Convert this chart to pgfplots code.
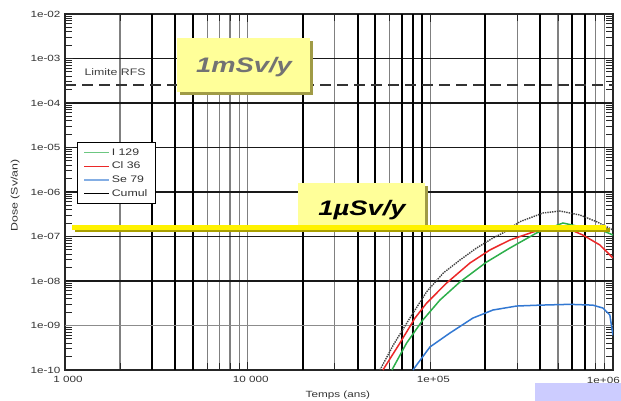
\documentclass[border=0pt]{standalone}
\usepackage{fontspec}
\setmainfont{Liberation Sans}
\newfontfamily\sfw[FakeStretch=1.3]{Liberation Sans}
\usepackage{pgfplots}
\pgfplotsset{compat=1.18}
\definecolor{cgreen}{RGB}{45,175,75}
\definecolor{cred}{RGB}{235,40,40}
\definecolor{cblue}{RGB}{50,120,210}
\definecolor{lyellow}{RGB}{255,255,153}
\definecolor{shadowol}{RGB}{160,155,70}
\definecolor{lineol}{RGB}{170,160,0}
\definecolor{lav}{RGB}{204,204,255}

\pgfplotstableread{
x y
53000 1e-10
62700 3.65e-10
77300 1.47e-9
95500 5.75e-9
117700 1.51e-8
145200 2.96e-8
179200 5.52e-8
220300 9.25e-8
249600 1.2e-7
309100 2.15e-7
413200 3.37e-7
512000 3.74e-7
659000 3.04e-7
813000 2.15e-7
1000000 1.40e-7
}\cumul

\pgfplotstableread{
x y
55000 1e-10
68200 4.05e-10
82400 1.47e-9
95500 3.2e-9
122800 9.0e-9
164800 2.54e-8
211900 4.98e-8
272800 8.34e-8
364500 1.26e-7
433300 1.55e-7
557000 1.55e-7
684000 1.08e-7
848000 6.44e-8
1000000 3.29e-8
}\clthirtysix

\pgfplotstableread{
x y
61600 1e-10
74200 4.05e-10
91000 1.33e-9
112900 3.74e-9
145200 9.5e-9
203300 2.67e-8
272800 5.52e-8
381700 1.2e-7
532000 2.01e-7
659000 1.66e-7
813000 1.55e-7
1000000 1.08e-7
}\iodine

\pgfplotstableread{
x y
80300 1e-10
99500 3.29e-10
128000 6.78e-10
171000 1.47e-9
220300 2.23e-9
296800 2.74e-9
398000 2.87e-9
581000 2.99e-9
776000 2.87e-9
880000 2.47e-9
961000 1.72e-9
1000000 6e-10
}\selenium

\begin{document}
\begin{tikzpicture}[x=1pt,y=1pt]
\begin{axis}[
  at={(65pt,31pt)}, anchor=south west,
  scale only axis, width=548pt, height=356pt,
  xmode=log, ymode=log,
  xmin=1000, xmax=1000000, ymin=1e-10, ymax=1e-2,
  xtick={1000,10000,100000},
  xticklabels={{1 000},{10 000},{1e+05}},
  minor xtick={2000,6000,7000,8000,9000,30000,60000,300000,500000,800000,900000},
  ytick={1e-10,1e-9,1e-8,1e-7,1e-6,1e-5,1e-4,1e-3,1e-2},
  yticklabels={1e-10,1e-09,1e-08,1e-07,1e-06,1e-05,1e-04,1e-03,1e-02},
  minor ytick={2e-10,3e-10,4e-10,5e-10,6e-10,7e-10,8e-10,9e-10,2e-9,3e-9,4e-9,5e-9,6e-9,7e-9,8e-9,9e-9,2e-8,3e-8,4e-8,5e-8,6e-8,7e-8,8e-8,9e-8,2e-7,3e-7,4e-7,5e-7,6e-7,7e-7,8e-7,9e-7,2e-6,3e-6,4e-6,5e-6,6e-6,7e-6,8e-6,9e-6,2e-5,3e-5,4e-5,5e-5,6e-5,7e-5,8e-5,9e-5,2e-4,3e-4,4e-4,5e-4,6e-4,7e-4,8e-4,9e-4,2e-3,3e-3,4e-3,5e-3,6e-3,7e-3,8e-3,9e-3},
  xmajorgrids=true, xminorgrids=true, ymajorgrids=true,
  major x grid style={black!50, line width=1.2pt},
  minor x grid style={black!50, line width=1.2pt},
  major y grid style={black!90, line width=1.2pt},
  tick align=inside,
  major tick length=8pt, minor tick length=7pt,
  tick style={black!85, line width=1pt},
  minor tick style={black!85, line width=0.9pt},
  axis line style={black!85, line width=1.4pt},
  ticklabel style={font=\sfw\fontsize{9}{10}\selectfont, text=black!80},
  /pgf/number format/assume math mode=true,
  xticklabel style={yshift=-3pt, xshift=3pt},
  yticklabel style={xshift=-1pt},
  xlabel={Temps (ans)},
  ylabel={Dose (Sv/an)},
  xlabel style={font=\sfw\fontsize{9}{10}\selectfont, text=black!80, at={(axis description cs:0.498,-0.070)}, anchor=center},
  ylabel style={font=\sfw\fontsize{9.5}{10}\selectfont, text=black!80, at={(axis description cs:-0.091,0.49)}, anchor=center},
  legend style={at={(0.022,0.64)}, anchor=north west, draw=black, line width=0.8pt, fill=white,
    font=\sfw\fontsize{9.5}{10}\selectfont, text=black!80, row sep=1.4pt, inner xsep=6pt, inner ysep=4pt},
  legend cell align=left,
  legend image code/.code={\draw[#1] (0pt,0pt) -- (25pt,0pt);},
  clip mode=individual,
]
% darker vertical grid lines
\pgfplotsinvokeforeach{3000,4000,5000,20000,40000,50000,70000,80000,90000,200000,400000,600000,700000}{
  \draw[black, line width=2pt] (axis cs:#1,1e-10) -- (axis cs:#1,1e-2);
}
\draw[black!45, line width=1.2pt] (axis cs:1000,1e-9) -- (axis cs:1000000,1e-9);

\draw[black!80, line width=1.8pt, dash pattern=on 11pt off 6pt] (axis cs:1000,2.54e-4) -- (axis cs:1000000,2.54e-4);
\node[font=\sfw\fontsize{9.5}{10}\selectfont, text=black!75, inner sep=0pt] at (axis cs:1880,4.98e-4) {Limite RFS};

\addlegendimage{cgreen!70, line width=1.3pt}
\addlegendentry{I 129}
\addlegendimage{cred, line width=1.3pt}
\addlegendentry{Cl 36}
\addlegendimage{cblue!60, line width=1.3pt}
\addlegendentry{Se 79}
\addlegendimage{black, line width=1.1pt}
\addlegendentry{Cumul}

\addplot[cgreen, line width=1.5pt, forget plot] table {\iodine};
\addplot[cred, line width=1.5pt, forget plot] table {\clthirtysix};
\addplot[cblue, line width=1.5pt, forget plot] table {\selenium};
\addplot[black!75, line width=1.4pt, densely dotted, forget plot] table {\cumul};
\end{axis}

% last x tick label, partly hidden like in the reference
\node[font=\sfw\fontsize{9}{10}\selectfont, text=black!80, anchor=north east, inner sep=0pt] at (620,24) {1e+06};

% annotation boxes
\fill[shadowol] (180,306) rectangle (313,360);
\fill[lyellow] (177,309) rectangle (310,363);
\node[font=\sfw\fontsize{21}{22}\selectfont\bfseries\itshape, text=black!55] at (244,334) {1mSv/y};

\fill[shadowol] (301,170) rectangle (428,215);
\fill[lyellow] (298,173) rectangle (425,218);
\node[font=\sfw\fontsize{21}{22}\selectfont\bfseries\itshape, text=black] at (362,191) {1µSv/y};

\draw[lineol, line width=4pt] (75,170.5) -- (610,170.5);
\draw[yellow, line width=4.5pt] (72,173.5) -- (606,173.5);

\fill[lav] (535,0) rectangle (621,18);

\pgfresetboundingbox
\path[use as bounding box] (0,0) rectangle (621,401);
\end{tikzpicture}
\end{document}
